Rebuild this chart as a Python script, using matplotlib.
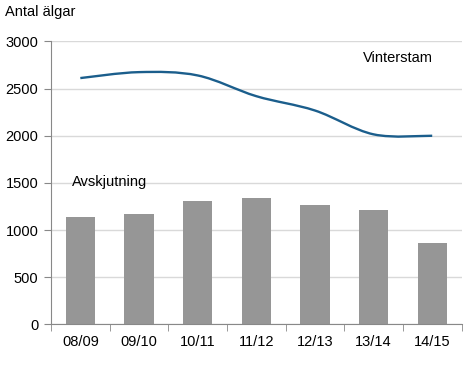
import numpy as np
import matplotlib
matplotlib.use("Agg")
import matplotlib.pyplot as plt
from matplotlib.path import Path
from matplotlib.patches import PathPatch

plt.rcParams['font.family'] = ['Liberation Sans', 'DejaVu Sans']

# Data
seasons = ["08/09", "09/10", "10/11", "11/12", "12/13", "13/14", "14/15"]
avskjutning = [1140, 1170, 1307, 1340, 1265, 1212, 866]
vinterstam = [2612, 2675, 2640, 2420, 2268, 2015, 2000]

fig = plt.figure(figsize=(4.7, 3.8), dpi=100)
ax = fig.add_axes([0.1085, 0.1466, 0.8735, 0.7442])

x = np.arange(len(seasons))
ax.bar(x, avskjutning, width=0.5, color="#969696", zorder=2)

# smoothed line (Catmull-Rom -> cubic Bezier, like Excel's smoothing)
pts = np.column_stack([x, vinterstam]).astype(float)
verts = [tuple(pts[0])]
codes = [Path.MOVETO]
t = 1 / 6
for i in range(len(pts) - 1):
    p0 = pts[i - 1] if i > 0 else pts[i]
    p1 = pts[i]
    p2 = pts[i + 1]
    p3 = pts[i + 2] if i + 2 < len(pts) else pts[i + 1]
    c1 = p1 + (p2 - p0) * t
    c2 = p2 - (p3 - p1) * t
    verts += [tuple(c1), tuple(c2), tuple(p2)]
    codes += [Path.CURVE4] * 3
ax.add_patch(PathPatch(Path(verts, codes), fill=False, edgecolor="#1B5E8C",
                       linewidth=1.7, zorder=3))

ax.set_xlim(-0.5, len(seasons) - 0.5)
ax.set_ylim(0, 3000)
ax.set_yticks(range(0, 3001, 500))
ax.set_xticks(x)
ax.set_xticklabels(seasons)
ax.set_xticks(np.arange(-0.5, len(seasons)), minor=True)
ax.tick_params(axis="x", which="major", length=0, pad=8, labelsize=10.5)
ax.tick_params(axis="x", which="minor", length=5, color="#888888")
ax.tick_params(axis="y", length=5, color="#888888", labelsize=10.5, pad=4)
ax.grid(axis="y", color="#D9D9D9", linewidth=1, zorder=0)
ax.set_axisbelow(True)

for s in ["top", "right"]:
    ax.spines[s].set_visible(False)
for s in ["left", "bottom"]:
    ax.spines[s].set_color("#888888")

fig.text(5 / 470, 1 - 12 / 380, "Antal älgar", fontsize=10.5, va="center", ha="left")
ax.text(5.41, 2830, "Vinterstam", fontsize=10.5, va="center", ha="center")
ax.text(0.5, 1510, "Avskjutning", fontsize=10.5, va="center", ha="center")

fig.savefig("out.png", dpi=100)
